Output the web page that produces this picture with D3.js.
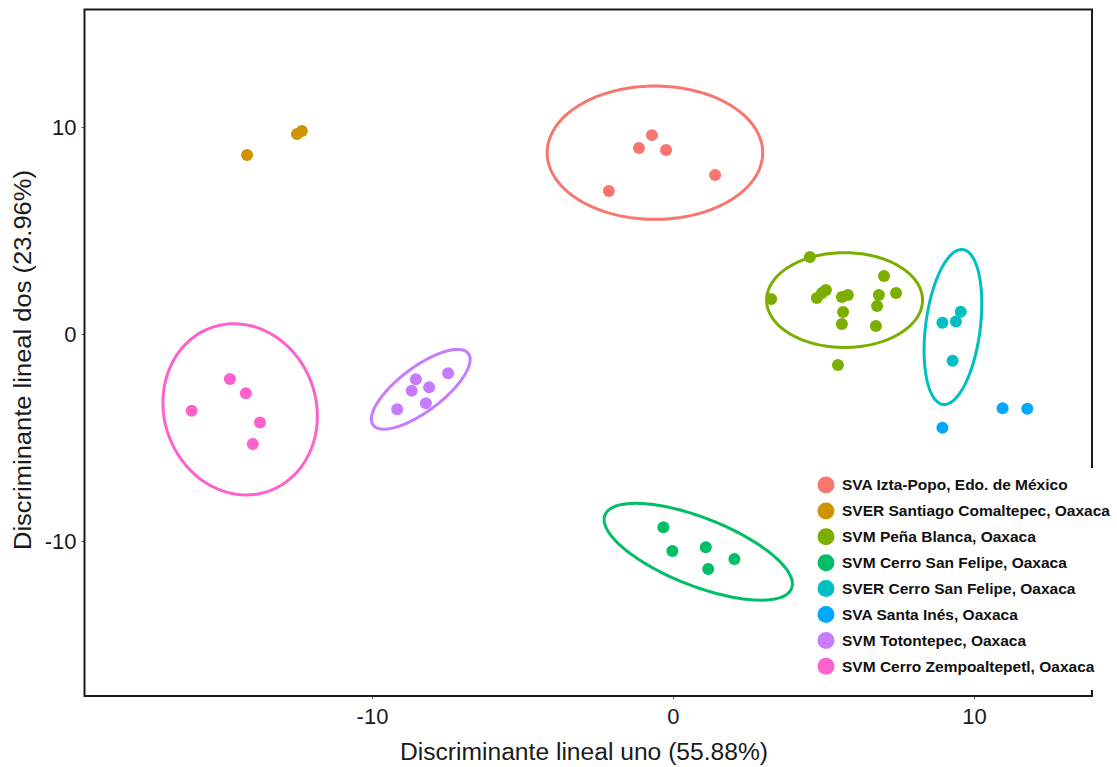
<!DOCTYPE html>
<html>
<head>
<meta charset="utf-8">
<script src="https://cdn.jsdelivr.net/npm/d3@7"></script>
<style>
  body { margin: 0; background: #fff; }
  text { font-family: "Liberation Sans", Arial, sans-serif; }
</style>
</head>
<body>
<div id="chart"></div>
<script>
// groups (legend order) and their ggplot hue colours
var groups = ["SVA Izta-Popo, Edo. de México",
              "SVER Santiago Comaltepec, Oaxaca",
              "SVM Peña Blanca, Oaxaca",
              "SVM Cerro San Felipe, Oaxaca",
              "SVER Cerro San Felipe, Oaxaca",
              "SVA Santa Inés, Oaxaca",
              "SVM Totontepec, Oaxaca",
              "SVM Cerro Zempoaltepetl, Oaxaca"];
var colors = ["#F8766D", "#CD9600", "#7CAE00", "#00BE67", "#00BFC4", "#00A9FF", "#C77CFF", "#FF61CC"];

// LD1 / LD2 scores, one array per group
var iztaPopo = [[-0.70, 9.61], [-1.13, 8.99], [-0.23, 8.89], [-2.13, 6.91], [1.40, 7.68]];
var comaltepec = [[-14.15, 8.65], [-12.49, 9.66], [-12.33, 9.81]];
var penaBlanca = [[4.55, 3.72], [3.26, 1.69], [4.78, 1.74], [4.95, 1.98], [5.08, 2.13],
                  [5.61, 1.79], [5.81, 1.88], [5.65, 1.06], [5.61, 0.48], [7.01, 2.80],
                  [6.84, 1.88], [6.78, 1.35], [7.41, 1.98], [6.74, 0.39], [5.48, -1.50]];
var svmSanFelipe = [[-0.32, -9.34], [-0.02, -10.48], [1.09, -10.30], [1.17, -11.35], [2.04, -10.87]];
var sverSanFelipe = [[8.95, 0.55], [9.40, 0.60], [9.56, 1.08], [9.29, -1.29]];
var santaInes = [[10.95, -3.59], [11.77, -3.61], [8.95, -4.53]];
var totontepec = [[-8.54, -2.19], [-8.68, -2.74], [-8.10, -2.57], [-7.47, -1.90], [-9.16, -3.64], [-8.21, -3.35]];
var zempoaltepetl = [[-14.72, -2.17], [-14.19, -2.86], [-15.99, -3.71], [-13.72, -4.28], [-13.96, -5.31]];
var points = [iztaPopo, comaltepec, penaBlanca, svmSanFelipe, sverSanFelipe, santaInes, totontepec, zempoaltepetl];

// confidence ellipses: centre and two conjugate half-axes, in data units (null = none drawn)
var ellipses = [
  {c: [-0.60, 8.76], u: [3.58, 0], v: [0, 3.22]},
  null,
  {c: [5.70, 1.64], u: [2.59, 0], v: [0, 2.29]},
  {c: [0.84, -10.52], u: [3.10, -1.77], v: [-0.41, -1.53]},
  {c: [9.30, 0.34], u: [0.33, 3.74], v: [0.90, -0.17]},
  null,
  {c: [-8.38, -2.67], u: [1.58, 1.73], v: [0.44, -0.85]},
  {c: [-14.38, -3.64], u: [-0.93, 3.96], v: [2.39, 1.19]}
];

var xTicks = [-10, 0, 10];
var yTicks = [-10, 0, 10];
var xTitle = "Discriminante lineal uno (55.88%)";
var yTitle = "Discriminante lineal dos (23.96%)";

var W = 1117, H = 767;
var svg = d3.select("#chart").append("svg")
    .attr("width", W).attr("height", H);

var x = d3.scaleLinear().domain([-19.55, 13.92]).range([84.5, 1092]);
var y = d3.scaleLinear().domain([-17.49, 15.68]).range([696, 9.5]);

// axes (ticks only, border drawn separately)
var xAxis = svg.append("g")
    .attr("transform", "translate(0," + y.range()[0] + ")")
    .call(d3.axisBottom(x).tickValues(xTicks).tickSize(3).tickPadding(9).tickFormat(d3.format("d")));
var yAxis = svg.append("g")
    .attr("transform", "translate(" + x.range()[0] + ",0)")
    .call(d3.axisLeft(y).tickValues(yTicks).tickSize(3).tickPadding(5).tickFormat(d3.format("d")));
[xAxis, yAxis].forEach(function(a){
  a.select(".domain").remove();
  a.selectAll(".tick line").attr("stroke", "#555");
  a.selectAll(".tick text").attr("fill", "#1a1a1a")
    .style("font-size", "22px")
    .text(function(d){ return d < 0 ? "-" + Math.abs(d) : d; });
});

// ellipses
var t = d3.range(0, 2 * Math.PI + 0.01, Math.PI / 90);
var line = d3.line().x(function(d){ return x(d[0]); }).y(function(d){ return y(d[1]); });
ellipses.forEach(function(e, i){
  if (!e) return;
  var pts = t.map(function(a){
    return [e.c[0] + e.u[0] * Math.cos(a) + e.v[0] * Math.sin(a),
            e.c[1] + e.u[1] * Math.cos(a) + e.v[1] * Math.sin(a)];
  });
  svg.append("path").datum(pts)
    .attr("d", line)
    .attr("fill", "none")
    .attr("stroke", colors[i])
    .attr("stroke-width", 3);
});

// points
points.forEach(function(g, i){
  svg.append("g").selectAll("circle").data(g).enter().append("circle")
    .attr("cx", function(d){ return x(d[0]); })
    .attr("cy", function(d){ return y(d[1]); })
    .attr("r", 6)
    .attr("fill", colors[i]);
});

// panel border
svg.append("rect")
  .attr("x", x.range()[0]).attr("y", y.range()[1])
  .attr("width", x.range()[1] - x.range()[0])
  .attr("height", y.range()[0] - y.range()[1])
  .attr("fill", "none").attr("stroke", "#1a1a1a").attr("stroke-width", 2);

// axis titles
svg.append("text")
  .attr("x", 584).attr("y", 760)
  .attr("text-anchor", "middle")
  .attr("textLength", 368).attr("lengthAdjust", "spacingAndGlyphs")
  .style("font-size", "23px").attr("fill", "#1a1a1a")
  .text(xTitle);
svg.append("text")
  .attr("transform", "translate(31,360) rotate(-90)")
  .attr("text-anchor", "middle")
  .attr("textLength", 380).attr("lengthAdjust", "spacingAndGlyphs")
  .style("font-size", "23px").attr("fill", "#1a1a1a")
  .text(yTitle);

// legend (white box sits over the panel's right edge, bottom border stays visible)
var legend = svg.append("g");
legend.append("rect")
  .attr("x", 812).attr("y", 468).attr("width", 305).attr("height", 222)
  .attr("fill", "#fff");
var rows = legend.selectAll("g.row").data(groups).enter().append("g")
  .attr("class", "row")
  .attr("transform", function(d, i){ return "translate(826," + (485 + i * 25.9) + ")"; });
rows.append("circle").attr("r", 8.5).attr("fill", function(d, i){ return colors[i]; });
rows.append("text")
  .attr("x", 16).attr("dy", "0.35em")
  .style("font-size", "15.5px").style("font-weight", "bold").attr("fill", "#111")
  .text(function(d){ return d; });
</script>
</body>
</html>
